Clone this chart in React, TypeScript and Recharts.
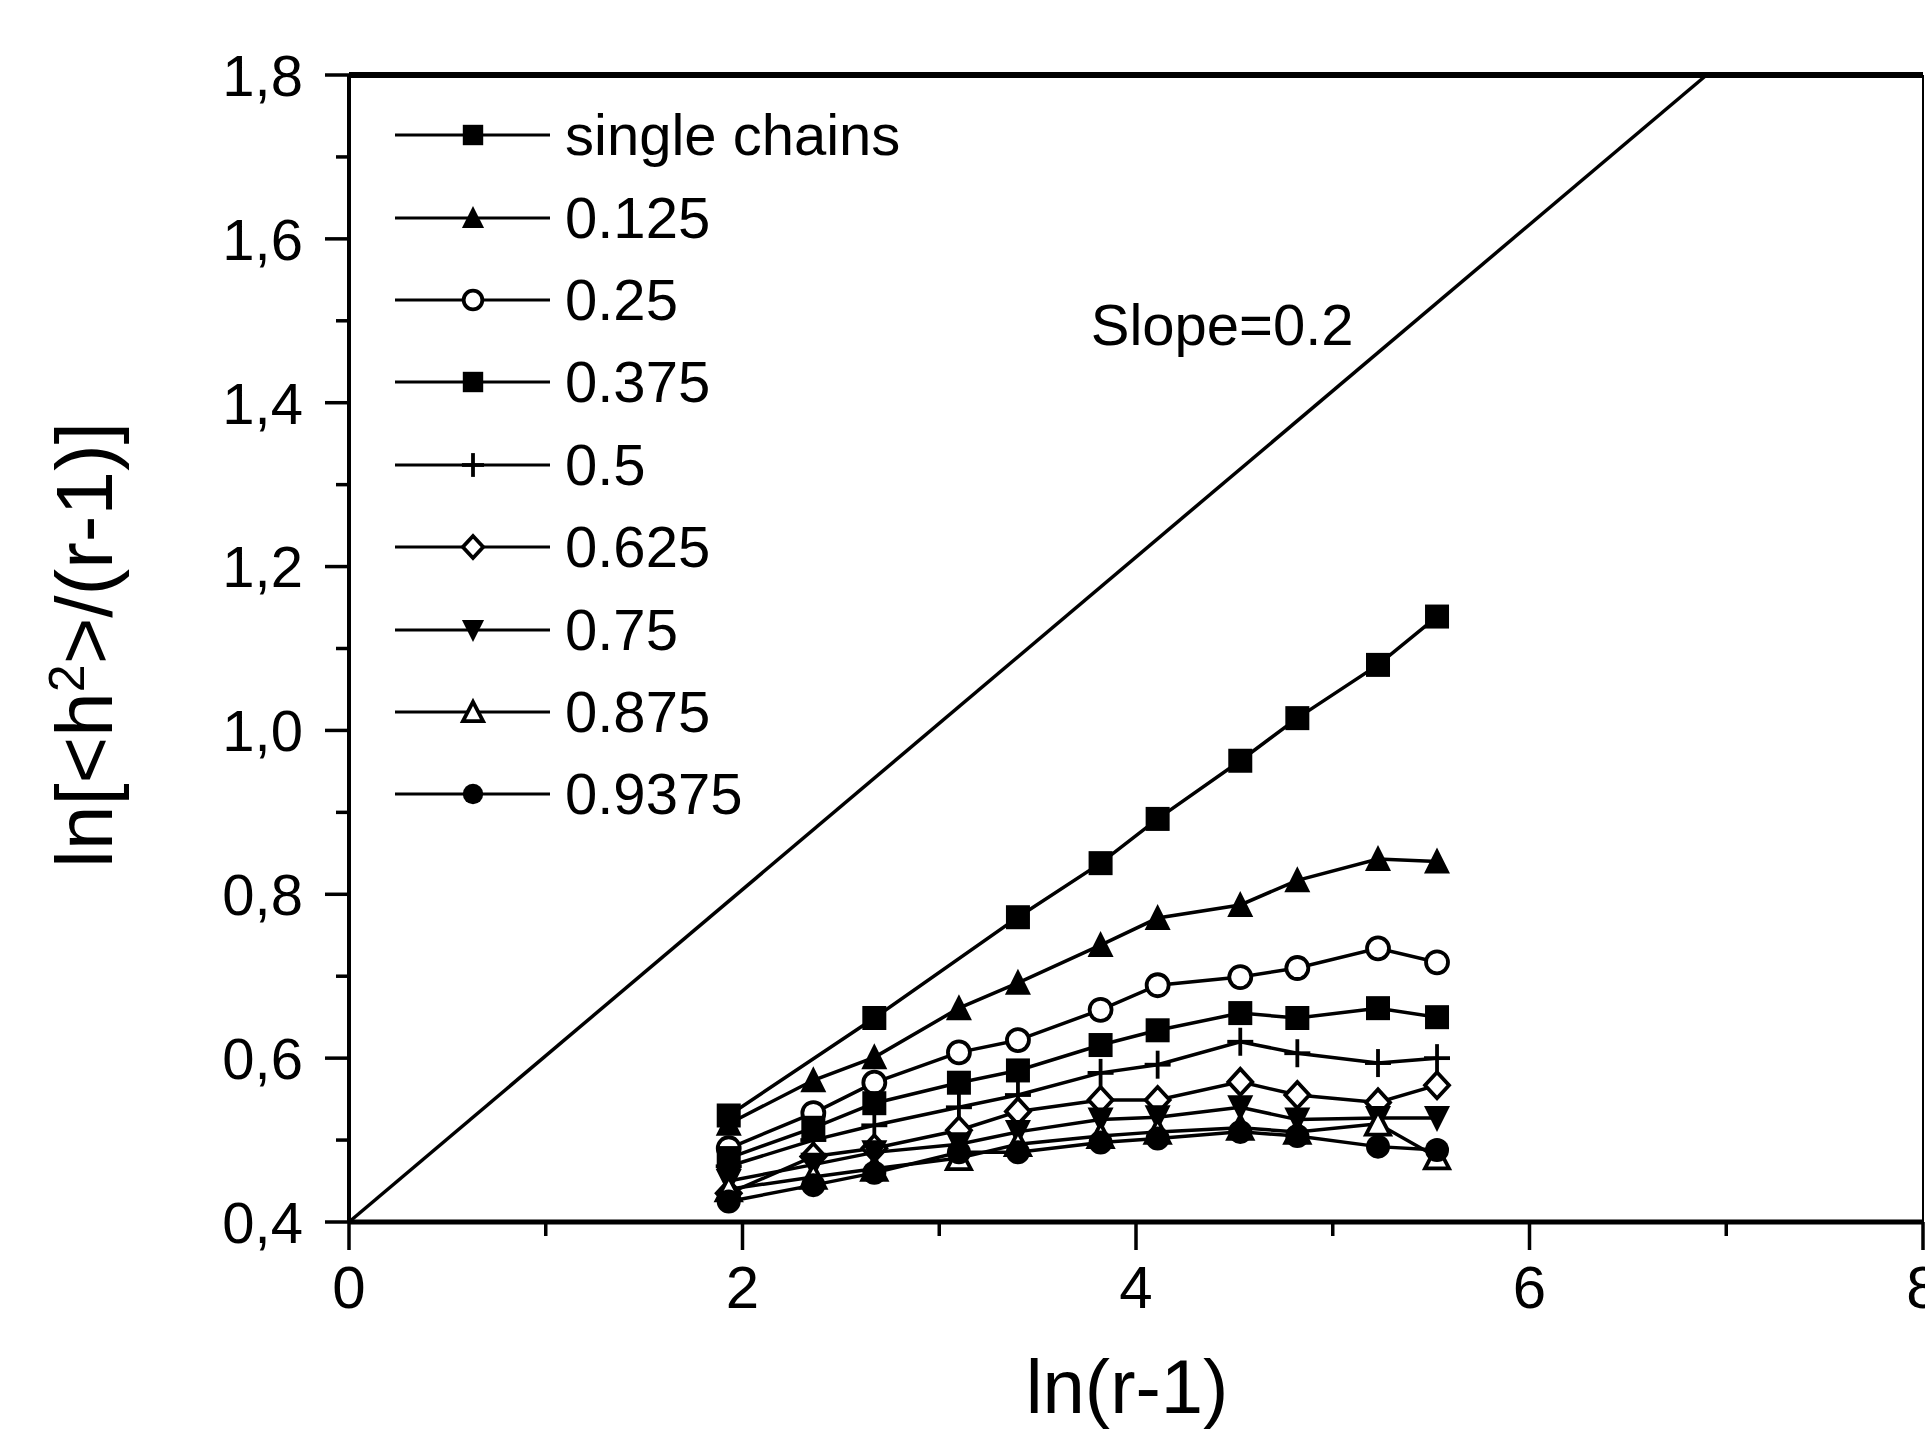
import React from 'react';
import { LineChart, Line, XAxis, YAxis, Legend, ReferenceLine, ReferenceDot } from 'recharts';

const FONT = '"Liberation Sans", Arial, Helvetica, sans-serif';

// ln(r-1) positions of the measured points
const xAll = [1.93, 2.36, 2.67, 3.1, 3.4, 3.82, 4.11, 4.53, 4.82, 5.23, 5.53];
const xSingle = [1.93, 2.67, 3.4, 3.82, 4.11, 4.53, 4.82, 5.23, 5.53];

const ySingle = [0.53, 0.649, 0.772, 0.838, 0.892, 0.963, 1.015, 1.08, 1.139];
const y0125 = [0.52, 0.573, 0.601, 0.661, 0.692, 0.738, 0.771, 0.787, 0.817, 0.843, 0.84];
const y025 = [0.49, 0.533, 0.57, 0.607, 0.622, 0.659, 0.689, 0.699, 0.71, 0.734, 0.717];
const y0375 = [0.478, 0.515, 0.545, 0.57, 0.585, 0.616, 0.634, 0.655, 0.649, 0.661, 0.65];
const y05 = [0.468, 0.5, 0.518, 0.54, 0.555, 0.582, 0.592, 0.62, 0.606, 0.594, 0.6];
const y0625 = [0.435, 0.48, 0.49, 0.512, 0.535, 0.549, 0.549, 0.571, 0.555, 0.546, 0.567];
const y075 = [0.45, 0.47, 0.485, 0.495, 0.51, 0.525, 0.528, 0.54, 0.525, 0.527, 0.527];
const y0875 = [0.44, 0.455, 0.465, 0.478, 0.495, 0.505, 0.51, 0.515, 0.51, 0.52, 0.479];
const y09375 = [0.425, 0.445, 0.46, 0.485, 0.485, 0.497, 0.502, 0.51, 0.505, 0.492, 0.488];

// reference line, slope 0.2 (as drawn on the scanned axes)
const slopeX = [0, 6.9];
const slopeY = [0.4, 1.8];

const xMajorTicks = [0, 2, 4, 6, 8];
const xMinorTicks = [1, 3, 5, 7];
const yMajorTicks = [0.4, 0.6, 0.8, 1.0, 1.2, 1.4, 1.6, 1.8];
const yMinorTicks = [0.5, 0.7, 0.9, 1.1, 1.3, 1.5, 1.7];

const zip = (xs: number[], ys: number[]) => xs.map((x, i) => ({ x, y: ys[i] }));

const series = [
  { name: 'single chains', shape: 'square', data: zip(xSingle, ySingle) },
  { name: '0.125', shape: 'triangle', data: zip(xAll, y0125) },
  { name: '0.25', shape: 'circleOpen', data: zip(xAll, y025) },
  { name: '0.375', shape: 'square', data: zip(xAll, y0375) },
  { name: '0.5', shape: 'plus', data: zip(xAll, y05) },
  { name: '0.625', shape: 'diamondOpen', data: zip(xAll, y0625) },
  { name: '0.75', shape: 'triangleDown', data: zip(xAll, y075) },
  { name: '0.875', shape: 'triangleOpen', data: zip(xAll, y0875) },
  { name: '0.9375', shape: 'circle', data: zip(xAll, y09375) },
];

const slopeData = zip(slopeX, slopeY);

function Marker({ shape, cx, cy, k = 1 }: { shape: string; cx: number; cy: number; k?: number }) {
  if (cx == null || cy == null) return null;
  const s = 13 * k;
  const sw = 3.8;
  switch (shape) {
    case 'square':
      return <rect x={cx - 12 * k} y={cy - 12 * k} width={24 * k} height={24 * k} fill="#000" />;
    case 'triangle':
      return <polygon points={`${cx},${cy - s - 1} ${cx + s},${cy + s - 1} ${cx - s},${cy + s - 1}`} fill="#000" />;
    case 'triangleOpen':
      return (
        <polygon
          points={`${cx},${cy - s + 1} ${cx + s - 1},${cy + s - 2} ${cx - s + 1},${cy + s - 2}`}
          fill="#fff"
          stroke="#000"
          strokeWidth={sw}
        />
      );
    case 'triangleDown':
      return <polygon points={`${cx},${cy + s + 1} ${cx + s},${cy - s + 1} ${cx - s},${cy - s + 1}`} fill="#000" />;
    case 'circleOpen':
      return <circle cx={cx} cy={cy} r={11 * k} fill="#fff" stroke="#000" strokeWidth={sw} />;
    case 'circle':
      return <circle cx={cx} cy={cy} r={12 * k} fill="#000" />;
    case 'diamondOpen':
      return (
        <polygon
          points={`${cx},${cy - 13 * k} ${cx + 12 * k},${cy} ${cx},${cy + 13 * k} ${cx - 12 * k},${cy}`}
          fill="#fff"
          stroke="#000"
          strokeWidth={sw}
        />
      );
    case 'plus':
      return (
        <g stroke="#000" strokeWidth={3.8}>
          <line x1={cx - 13 * k} x2={cx + 13 * k} y1={cy} y2={cy} />
          <line x1={cx} x2={cx} y1={cy - 14 * k} y2={cy + 14 * k} />
        </g>
      );
    default:
      return null;
  }
}

const XTick = (props: any) => {
  const { x, y, payload } = props;
  const major = xMajorTicks.includes(payload.value);
  return (
    <g>
      <line x1={x} x2={x} y1={y} y2={y + (major ? 28 : 14)} stroke="#000" strokeWidth={3.5} />
      {major && (
        <text x={x} y={y + 86} textAnchor="middle" fontSize={60} fontFamily={FONT} fill="#000">
          {payload.value}
        </text>
      )}
    </g>
  );
};

const YTick = (props: any) => {
  const { x, y, payload } = props;
  const major = yMajorTicks.some((t) => Math.abs(t - payload.value) < 1e-6);
  return (
    <g>
      <line x1={x} x2={x - (major ? 24 : 13)} y1={y} y2={y} stroke="#000" strokeWidth={3.5} />
      {major && (
        <text x={x - 46} y={y} dy="0.36em" textAnchor="end" fontSize={58} fontFamily={FONT} fill="#000">
          {payload.value.toFixed(1).replace('.', ',')}
        </text>
      )}
    </g>
  );
};

const renderLegend = () => (
  <div style={{ fontFamily: FONT, color: '#000' }}>
    {series.map((s) => (
      <div key={s.name} style={{ display: 'flex', alignItems: 'center', height: 82.4 }}>
        <svg width={160} height={40} style={{ display: 'block' }}>
          <line x1={0} x2={155} y1={20} y2={20} stroke="#000" strokeWidth={3} />
          <Marker shape={s.shape} cx={78} cy={20} k={0.85} />
        </svg>
        <span style={{ marginLeft: 10, fontSize: 58, lineHeight: 1 }}>{s.name}</span>
      </div>
    ))}
  </div>
);

export default function App() {
  const xTicks = [...xMajorTicks, ...xMinorTicks].sort((a, b) => a - b);
  const yTicks = [...yMajorTicks, ...yMinorTicks].sort((a, b) => a - b);

  return (
    <div style={{ position: 'absolute', left: 0, top: 0, width: 1925, height: 1436, background: '#fff' }}>
      <LineChart width={1925} height={1436} margin={{ top: 75, right: 2, bottom: 0, left: 0 }}>
        <XAxis
          type="number"
          dataKey="x"
          domain={[0, 8]}
          ticks={xTicks}
          interval={0}
          height={214}
          tickSize={0}
          tickMargin={0}
          tickLine={false}
          tick={<XTick />}
          axisLine={{ stroke: '#000', strokeWidth: 5 }}
          label={() => (
            <text x={1127} y={1413} textAnchor="middle" fontSize={76} fontFamily={FONT} fill="#000">
              ln(r-1)
            </text>
          )}
        />
        <YAxis
          type="number"
          dataKey="y"
          domain={[0.4, 1.8]}
          ticks={yTicks}
          interval={0}
          width={349}
          tickSize={0}
          tickMargin={0}
          tickLine={false}
          tick={<YTick />}
          axisLine={{ stroke: '#000', strokeWidth: 4 }}
          label={() => (
            <text
              x={112}
              y={645}
              transform="rotate(-90, 112, 645)"
              textAnchor="middle"
              fontSize={80}
              fontFamily={FONT}
              fill="#000"
            >
              {'ln[<h'}
              <tspan baselineShift="super" fontSize={50}>2</tspan>
              {'>/(r-1)]'}
            </text>
          )}
        />
        <ReferenceLine y={1.8} stroke="#000" strokeWidth={6} />
        <ReferenceLine x={8} stroke="#000" strokeWidth={2} />
        <Line
          data={slopeData}
          dataKey="y"
          stroke="#000"
          strokeWidth={3.5}
          dot={false}
          isAnimationActive={false}
          legendType="none"
        />
        {series.map((s) => (
          <Line
            key={s.name}
            data={s.data}
            dataKey="y"
            name={s.name}
            stroke="#000"
            strokeWidth={3.5}
            isAnimationActive={false}
            dot={(p: any) => <Marker key={`${s.name}-${p.index}`} shape={s.shape} cx={p.cx} cy={p.cy} />}
            activeDot={false}
          />
        ))}
        <ReferenceDot
          x={3.77}
          y={1.495}
          r={0}
          fill="none"
          stroke="none"
          label={{ value: 'Slope=0.2', position: 'right', offset: 0, fontSize: 58, fontFamily: FONT, fill: '#000' }}
        />
        <Legend
          layout="vertical"
          align="center"
          verticalAlign="middle"
          content={renderLegend}
          wrapperStyle={{ left: 395, top: 94, width: 700 }}
        />
      </LineChart>
    </div>
  );
}
